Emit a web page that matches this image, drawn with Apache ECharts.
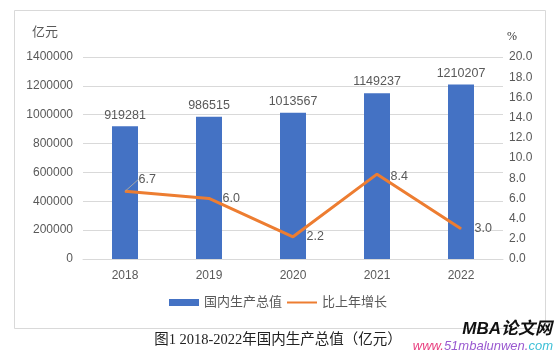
<!DOCTYPE html>
<html>
<head>
<meta charset="utf-8">
<script src="https://cdn.jsdelivr.net/npm/echarts@6/dist/echarts.min.js"></script>
<style>
  html, body { margin: 0; padding: 0; background: #fff; }
  #chart { width: 556px; height: 353px; }
</style>
</head>
<body>
<div id="chart"></div>
<script>
// 数据
const years = ['2018', '2019', '2020', '2021', '2022']
const gdpValues = [919281, 986515, 1013567, 1149237, 1210207]
const growthValues = [6.7, 6.0, 2.2, 8.4, 3.0]

const textColor = '#595959'
const fontFamily = 'Liberation Sans, Arial, "Noto Sans CJK SC", sans-serif'

const chart = echarts.init(document.getElementById('chart'))

// 只有第一个标签带引导线
const growthData = growthValues.map((v, i) => i === 0
  ? { value: v, labelLine: { show: true, lineStyle: { color: '#a6a6a6', width: 1 } } }
  : { value: v })

const option = {
  backgroundColor: '#ffffff',
  animation: false,
  textStyle: { fontFamily: fontFamily },
  grid: { left: 83, right: 53, top: 57, bottom: 94 },
  legend: {
    bottom: 39,
    left: 'center',
    itemWidth: 30,
    itemHeight: 7,
    itemGap: 4,
    textStyle: { color: textColor, fontSize: 13, fontFamily: fontFamily },
    data: [
      { name: '国内生产总值', icon: 'rect' },
      { name: '比上年增长', itemStyle: { opacity: 0 } }
    ]
  },
  xAxis: {
    type: 'category',
    data: years,
    axisLine: { lineStyle: { color: '#d9d9d9' } },
    axisTick: { show: false },
    axisLabel: { color: textColor, fontSize: 12, margin: 11 }
  },
  yAxis: [{
    type: 'value',
    name: '亿元',
    nameLocation: 'end',
    nameGap: 18,
    nameTextStyle: { color: textColor, fontSize: 13, align: 'right', padding: [0, 25, 0, 0] },
    min: 0,
    max: 1400000,
    interval: 200000,
    axisLine: { show: false },
    axisTick: { show: false },
    axisLabel: { color: textColor, fontSize: 12, margin: 10, formatter: v => String(v) },
    splitLine: { lineStyle: { color: '#d9d9d9' } }
  }, {
    type: 'value',
    name: '%',
    nameLocation: 'end',
    nameGap: 14,
    nameTextStyle: { color: '#333', fontSize: 12, fontFamily: 'Liberation Serif, serif', align: 'left', padding: [0, 0, 0, 4] },
    min: 0,
    max: 20,
    interval: 2,
    axisLine: { show: false },
    axisTick: { show: false },
    axisLabel: { color: textColor, fontSize: 12, margin: 6, formatter: v => v.toFixed(1) },
    splitLine: { show: false }
  }],
  series: [{
    name: '国内生产总值',
    type: 'bar',
    data: gdpValues,
    barWidth: 26,
    itemStyle: { color: '#4472C4' },
    label: { show: true, position: 'top', distance: 5, color: textColor, fontSize: 12.5 }
  }, {
    name: '比上年增长',
    type: 'line',
    yAxisIndex: 1,
    data: growthData,
    symbol: 'circle',
    symbolSize: 1,
    lineStyle: { color: '#ED7D31', width: 3 },
    itemStyle: { color: '#ED7D31' },
    label: {
      show: true,
      position: 'right',
      distance: 13,
      color: textColor,
      fontSize: 12.5,
      formatter: p => p.value.toFixed(1)
    },
    labelLine: { show: false },
    labelLayout: function (params) {
      if (params.dataIndex === 0) return { dx: 0, dy: -12 }
      if (params.dataIndex === 3) return { dy: 2 }
      return {}
    }
  }],
  graphic: [{
    type: 'rect',
    shape: { x: 14.5, y: 10.5, width: 531, height: 318 },
    style: { fill: 'none', stroke: '#d9d9d9', lineWidth: 1 },
    silent: true
  }, {
    type: 'text',
    left: 'center',
    top: 333,
    style: {
      text: '图1 2018-2022年国内生产总值（亿元）',
      fill: '#222',
      fontSize: 14.5,
      fontFamily: 'Liberation Serif, "Noto Sans CJK SC", serif'
    }
  }, {
    type: 'text',
    right: 4,
    top: 321,
    style: {
      text: 'MBA论文网',
      fill: '#111',
      fontSize: 17,
      fontWeight: 'bold',
      fontStyle: 'italic',
      fontFamily: 'Liberation Sans, "Noto Sans CJK SC", sans-serif'
    }
  }, {
    type: 'text',
    right: 3,
    top: 340,
    style: {
      text: '{a|www.}{b|51mbalunwen.}{c|com}',
      fontSize: 13,
      fontStyle: 'italic',
      fontFamily: 'Liberation Sans, sans-serif',
      rich: {
        a: { fill: '#e8407f', fontSize: 13, fontStyle: 'italic' },
        b: { fill: '#9a5ad0', fontSize: 13, fontStyle: 'italic' },
        c: { fill: '#3cbfd6', fontSize: 13, fontStyle: 'italic' }
      }
    }
  }]
}

chart.setOption(option)
</script>
</body>
</html>
